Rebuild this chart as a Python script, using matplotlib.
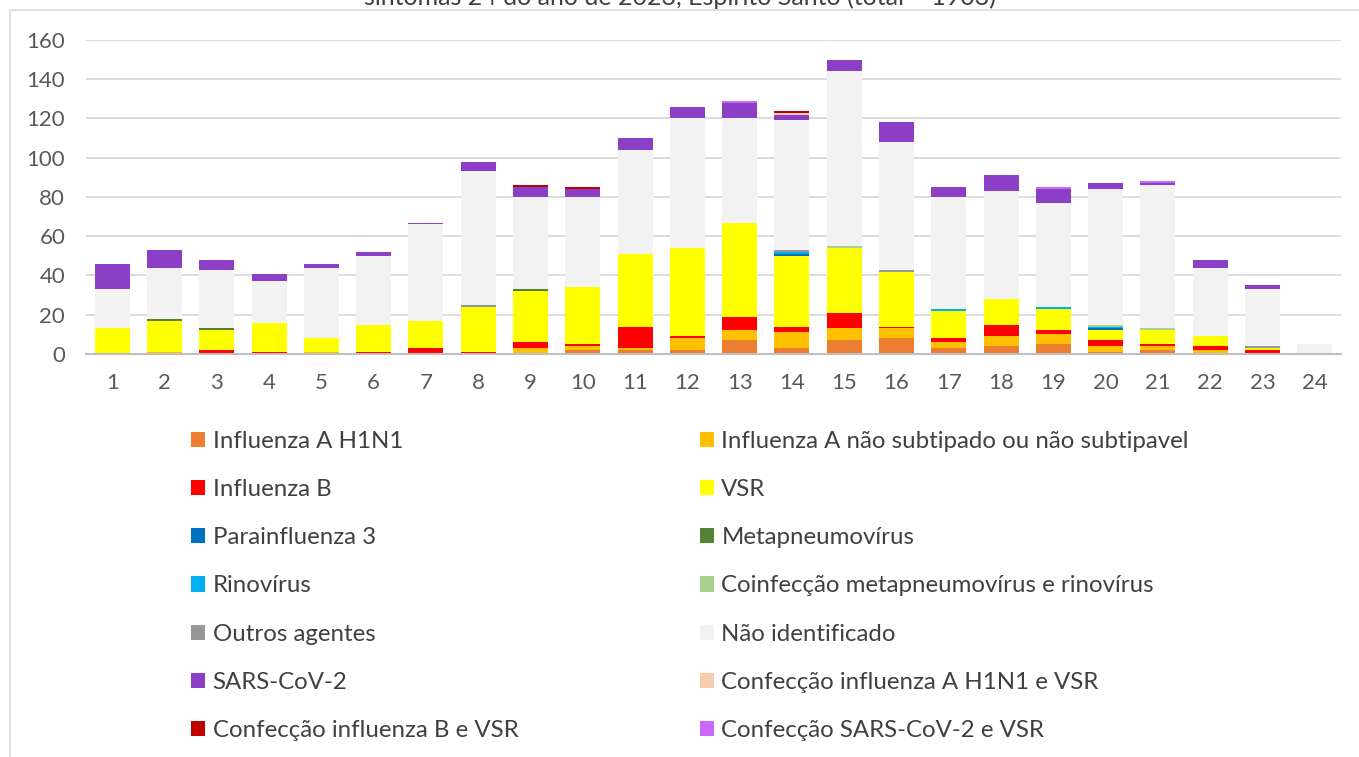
import matplotlib.pyplot as plt
import numpy as np
from matplotlib.lines import Line2D

plt.rcParams['font.family'] = ['Lato', 'DejaVu Sans']

# Semanas epidemiologicas
weeks = [str(w) for w in range(1, 25)]

# Series (casos por semana)
h1n1 =       [0, 0, 0, 0, 0, 0, 0, 0, 0, 2, 2, 2, 7, 3, 7, 8, 3, 4, 5, 1, 2, 0, 0, 0]
flua_ns =    [0, 1, 0, 0, 1, 0, 0, 0, 3, 2, 1, 6, 5, 8, 6, 5, 3, 5, 5, 3, 2, 2, 0, 0]
flub =       [0, 0, 2, 1, 0, 1, 3, 1, 3, 1, 11, 1, 7, 3, 8, 1, 2, 6, 2, 3, 1, 2, 2, 0]
vsr =        [13, 16, 10, 15, 7, 14, 14, 23, 26, 29, 37, 45, 48, 36, 33, 28, 14, 13, 11, 5, 7, 5, 1, 0]
para3 =      [0, 0, 0, 0, 0, 0, 0, 0, 0, 0, 0, 0, 0, 1, 0, 0, 0, 0, 0, 1, 0, 0, 0, 0]
metapneumo = [0, 1, 1, 0, 0, 0, 0, 0, 1, 0, 0, 0, 0, 0, 0, 0, 0, 0, 0, 0, 0, 0, 0, 0]
rino =       [0, 0, 0, 0, 0, 0, 0, 0, 0, 0, 0, 0, 0, 1, 0, 0, 1, 0, 1, 1, 0, 0, 0, 0]
co_meta_rino = [0, 0, 0, 0, 0, 0, 0, 0, 0, 0, 0, 0, 0, 0, 1, 0, 0, 0, 0, 1, 1, 0, 0, 0]
outros =     [0, 0, 0, 0, 0, 0, 0, 1, 0, 0, 0, 0, 0, 1, 0, 1, 0, 0, 0, 0, 0, 0, 1, 0]
nao_ident =  [20, 26, 30, 21, 36, 35, 49, 68, 47, 46, 53, 66, 53, 66, 89, 65, 57, 55, 53, 69, 73, 35, 29, 5]
sars =       [13, 9, 5, 4, 2, 2, 1, 5, 5, 4, 6, 6, 8, 3, 6, 10, 5, 8, 7, 3, 1, 4, 2, 0]
co_h1n1_vsr = [0, 0, 0, 0, 0, 0, 0, 0, 0, 0, 0, 0, 0, 1, 0, 0, 0, 0, 0, 0, 0, 0, 0, 0]
co_flub_vsr = [0, 0, 0, 0, 0, 0, 0, 0, 1, 1, 0, 0, 0, 1, 0, 0, 0, 0, 0, 0, 0, 0, 0, 0]
co_sars_vsr = [0, 0, 0, 0, 0, 0, 0, 0, 0, 0, 0, 0, 1, 0, 0, 0, 0, 0, 1, 0, 1, 0, 0, 0]

series = [
    ("Influenza A H1N1", h1n1, "#ED7D31"),
    ("Influenza A não subtipado ou não subtipavel", flua_ns, "#FFC000"),
    ("Influenza B", flub, "#FF0000"),
    ("VSR", vsr, "#FFFF00"),
    ("Parainfluenza 3", para3, "#0070C0"),
    ("Metapneumovírus", metapneumo, "#548235"),
    ("Rinovírus", rino, "#00B0F0"),
    ("Coinfecção metapneumovírus e rinovírus", co_meta_rino, "#A9D18E"),
    ("Outros agentes", outros, "#969696"),
    ("Não identificado", nao_ident, "#F2F2F2"),
    ("SARS-CoV-2", sars, "#8B3FC6"),
    ("Confecção influenza A H1N1 e VSR", co_h1n1_vsr, "#F8CBAD"),
    ("Confecção influenza B e VSR", co_flub_vsr, "#C00000"),
    ("Confecção SARS-CoV-2 e VSR", co_sars_vsr, "#CC66FF"),
]

fig = plt.figure(figsize=(13.59, 7.57), dpi=100)
ax = fig.add_axes([86 / 1359, 1 - 354 / 757, (1341 - 86) / 1359, (354 - 40) / 757])

x = np.arange(1, len(weeks) + 1)
bottom = np.zeros(len(weeks))
handles = []
for name, vals, color in series:
    bars = ax.bar(x, vals, width=0.67, bottom=bottom, color=color, label=name, zorder=2)
    bottom += np.array(vals)
    handles.append(bars)

ax.set_xlim(0.5, 24.5)
ax.set_ylim(0, 160)
ax.set_yticks(range(0, 161, 20))
ax.set_xticks(x)
ax.set_xticklabels(weeks)
ax.yaxis.grid(True, color="#D9D9D9", linewidth=1.3, zorder=0)
ax.set_axisbelow(True)
for s in ["top", "right", "left"]:
    ax.spines[s].set_visible(False)
ax.spines["bottom"].set_color("#BFBFBF")
ax.spines["bottom"].set_linewidth(1.5)
ax.tick_params(axis="both", length=0, labelsize=16, labelcolor="#595959")
ax.tick_params(axis="y", pad=15)
ax.tick_params(axis="x", pad=14)

# legenda em 2 colunas, ordem por linha
order = list(range(0, len(series), 2)) + list(range(1, len(series), 2))
fig.legend([handles[i] for i in order], [series[i][0] for i in order],
           ncol=2, loc="upper left", bbox_to_anchor=(179 / 1359, 1 - 419 / 757),
           frameon=False, fontsize=17.3, handlelength=0.6, handleheight=0.6,
           handletextpad=0.3, labelspacing=1.13, columnspacing=7.55, borderpad=0,
           labelcolor="#404040")

# titulo (linha cortada no topo)
fig.text(0.5, 1 - 5 / 757, "sintomas 24 do ano de 2023, Espírito Santo (total = 1903)",
         ha="center", va="baseline", fontsize=18, color="#404040")

# borda da area do grafico
fig.add_artist(Line2D([10 / 1359, 1], [1 - 10 / 757] * 2, color="#D9D9D9", linewidth=1.2))
fig.add_artist(Line2D([10 / 1359] * 2, [0, 1 - 10 / 757], color="#D9D9D9", linewidth=1.2))

fig.savefig("out.png", dpi=100)
